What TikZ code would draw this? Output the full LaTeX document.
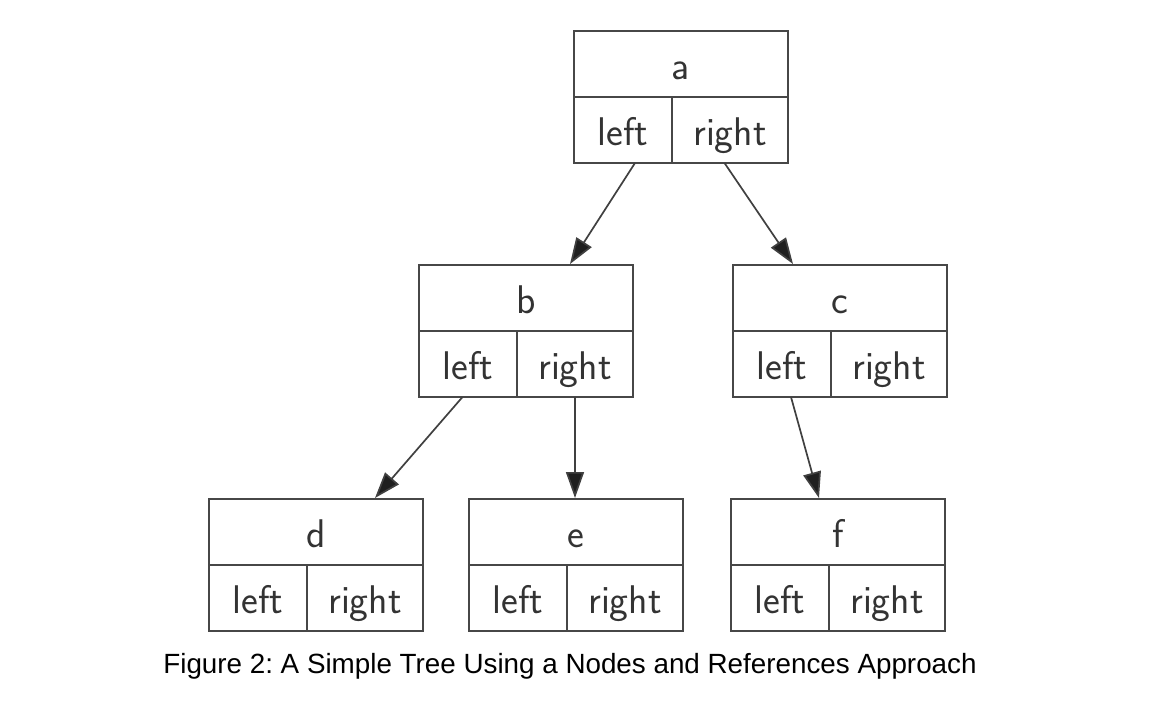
\documentclass[tikz,border=0pt]{standalone}
\usepackage{fontspec}
\newfontfamily\capfont{Liberation Sans}
\usetikzlibrary{arrows.meta,calc}
\frenchspacing

% one record: label cell on top, left and right cells below
\newcommand{\record}[4]{%
    \node[cell, minimum width=107pt, anchor=north west] (#1) at (#2,#3) {#4};
    \node[cell, minimum width=49pt, anchor=north west] (#1-l) at (#1.south west) {left};
    \node[cell, minimum width=58pt, anchor=north east] (#1-r) at (#1.south east) {right};
}

\begin{document}
\begin{tikzpicture}[x=0.5pt, y=-0.5pt,
    cell/.style={draw=black!72, line width=0.85pt, rectangle, minimum height=33pt,
        inner sep=0pt, outer sep=0pt, text height=18pt, text depth=2.5pt,
        font=\sffamily\fontsize{20}{24}\selectfont, text=black!80},
    link/.style={draw=black!75, line width=0.85pt,
        -{Triangle[length=13pt, width=9pt, fill=black!88]}}]
    \useasboundingbox (0,0) rectangle (1152,708);

    \record{a}{574}{31}{a}
    \record{b}{419}{265}{b}
    \record{c}{733}{265}{c}
    \record{d}{209}{499}{d}
    \record{e}{469}{499}{e}
    \record{f}{731}{499}{f}

    \draw[link] ($(a-l.south)+(12,0)$) -- ($(b.north)+(44,-1)$);
    \draw[link] ($(a-r.south)+(-5.5,0)$) -- ($(c.north)+(-47,-1)$);
    \draw[link] ($(b-l.south)+(-5.5,0)$) -- ($(d.north)+(59,-1)$);
    \draw[link] (b-r.south) -- ($(b-r.south |- e.north)+(0,-1)$);
    \draw[link] ($(c-l.south)+(9,0)$) -- ($(f.north)+(-19,-1)$);

    \node[anchor=base, font=\capfont\fontsize{13.9}{16}\selectfont] (caption) at (570,673)
        {Figure 2: A Simple Tree Using a Nodes and References Approach};
\end{tikzpicture}
\end{document}
